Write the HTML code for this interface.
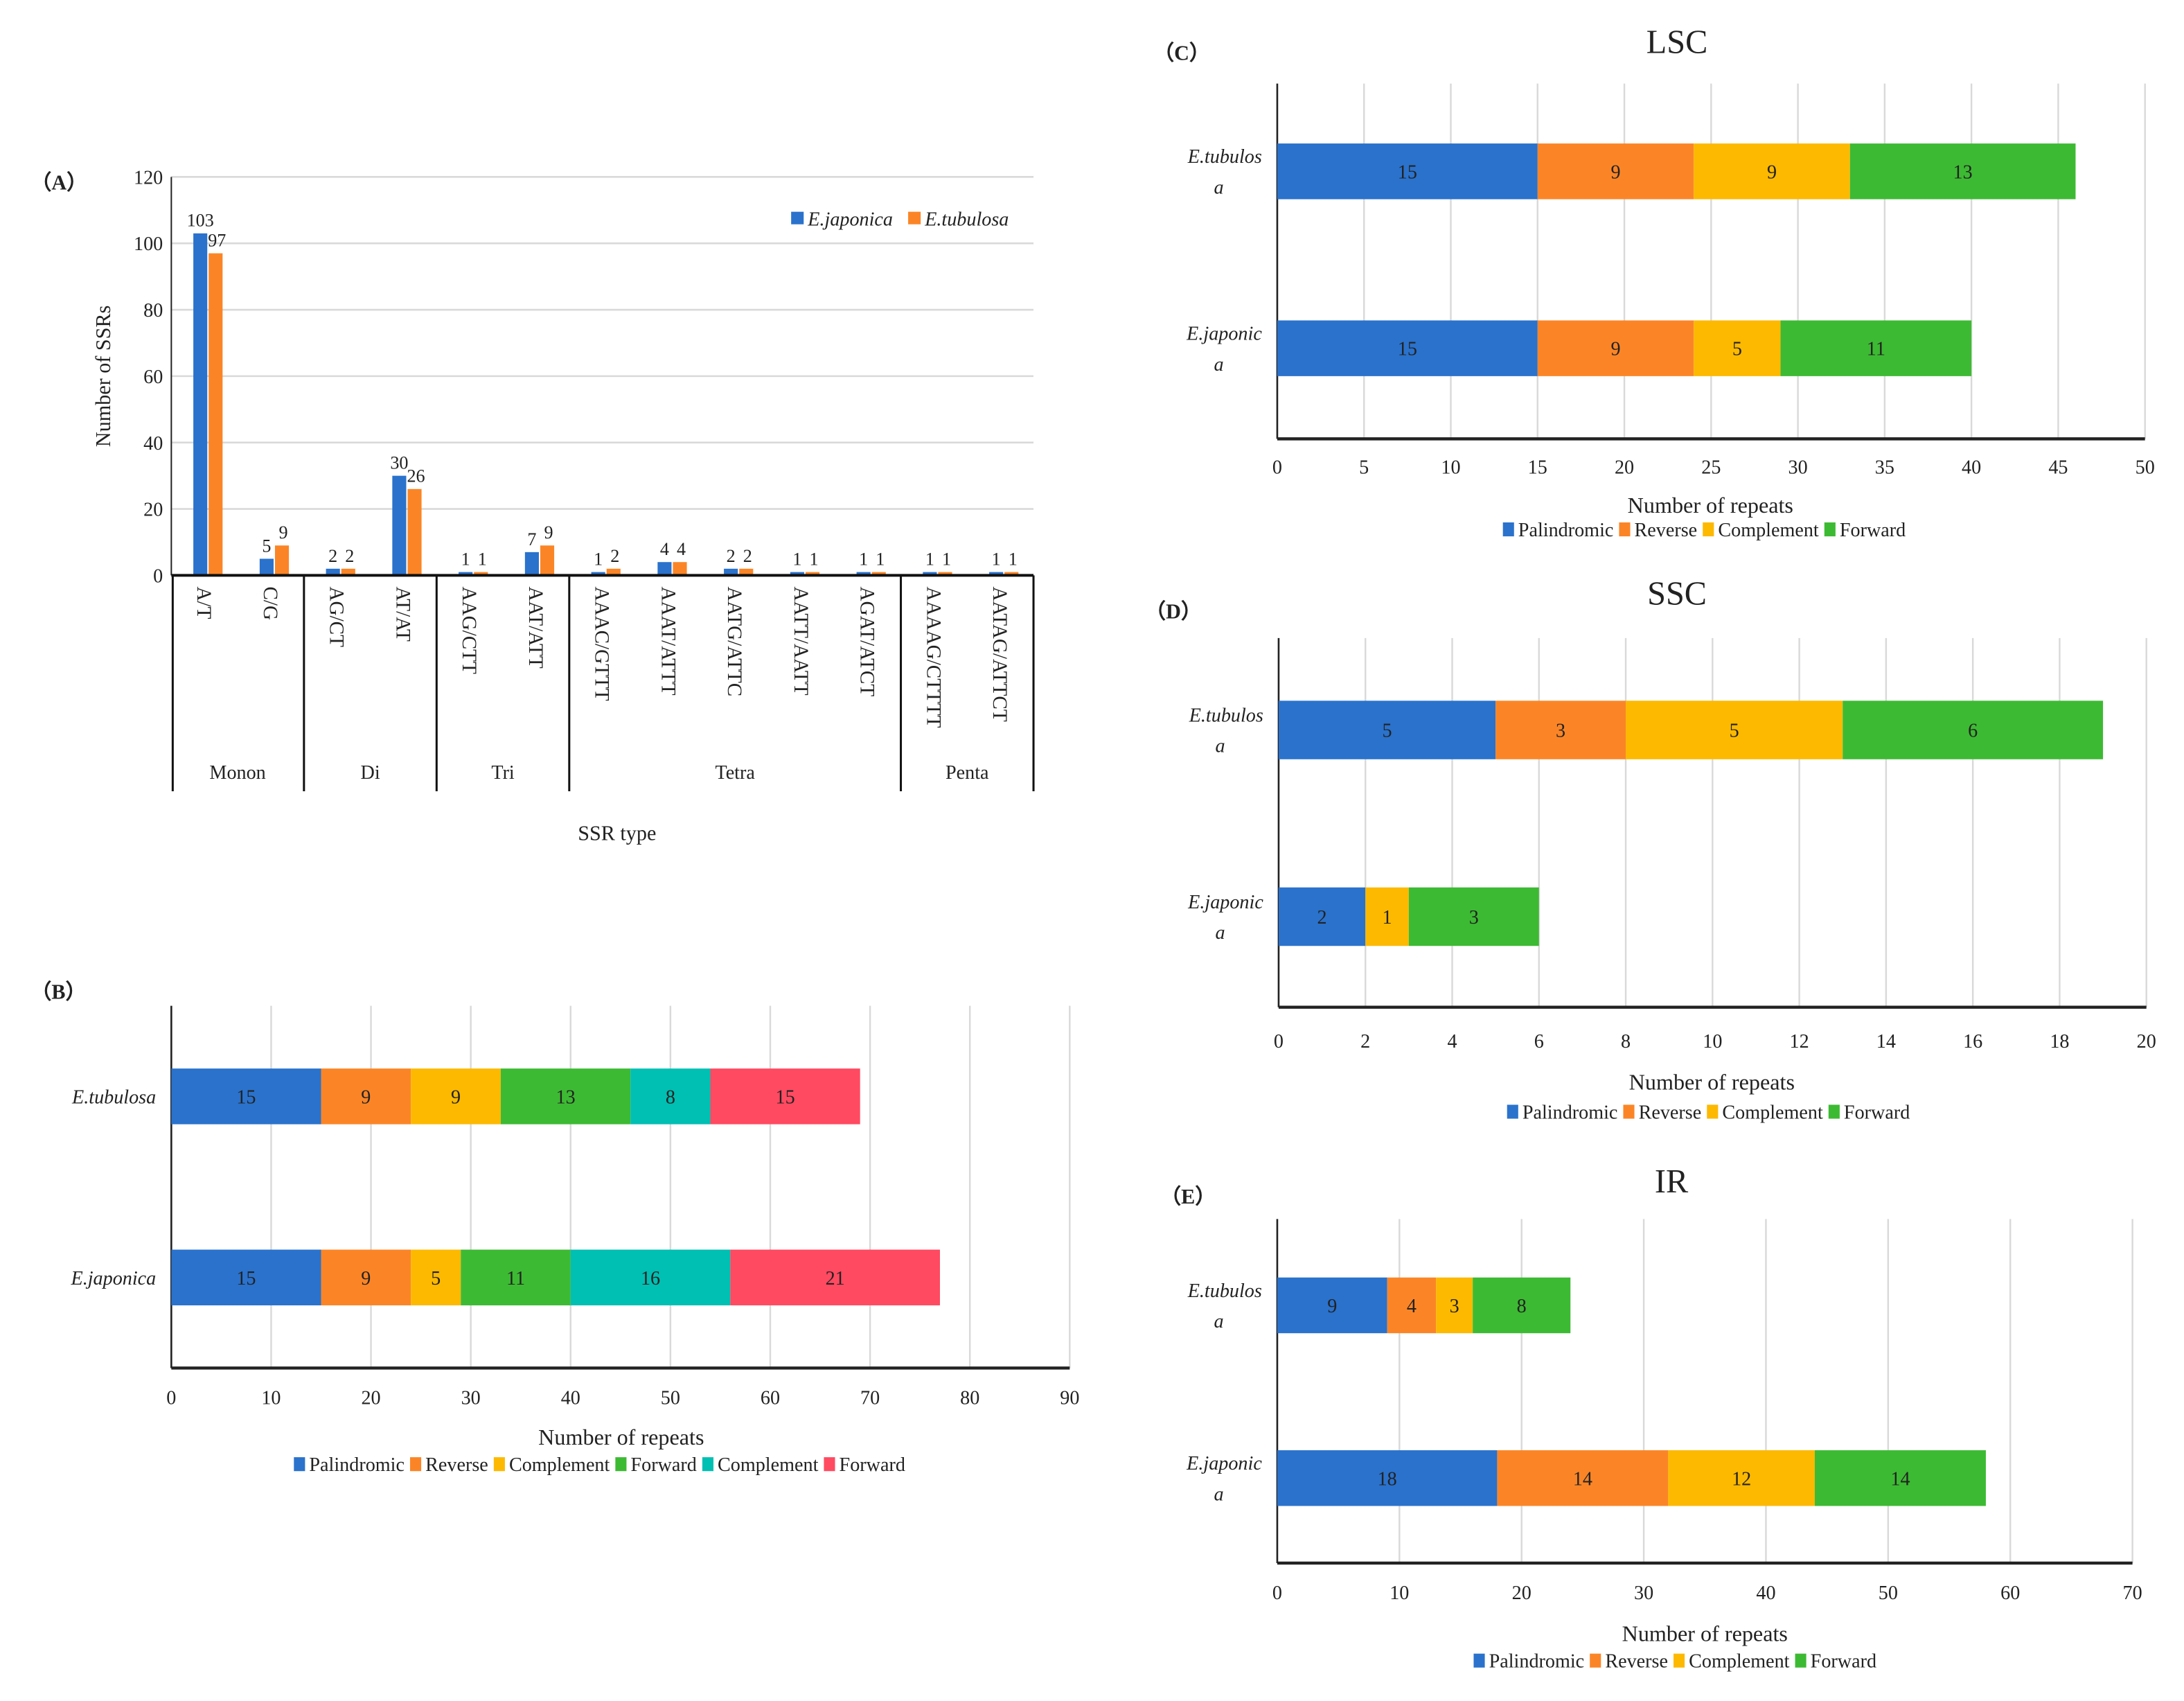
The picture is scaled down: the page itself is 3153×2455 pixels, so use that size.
<!DOCTYPE html>
<html><head><meta charset="utf-8"><style>
html,body{margin:0;padding:0;background:#fff;width:3153px;height:2455px;overflow:hidden}
svg{display:block}
text{font-family:"Liberation Serif","DejaVu Serif",serif;fill:#222}
</style></head><body>
<svg id="fig" width="3153" height="2455" viewBox="0 0 1568 1221" preserveAspectRatio="none" xmlns="http://www.w3.org/2000/svg"></svg>
<script>
// ---- Chart A data ----
const aCategories=["A/T","C/G","AG/CT","AT/AT","AAG/CTT","AAT/ATT","AAAC/GTTT","AAAT/ATTT","AATG/ATTC","AATT/AATT","AGAT/ATCT","AAAAG/CTTTT","AATAG/ATTCT"];
const aJaponica=[103,5,2,30,1,7,1,4,2,1,1,1,1];
const aTubulosa=[97,9,2,26,1,9,2,4,2,1,1,1,1];
const aGroups=["Monon","Di","Tri","Tetra","Penta"];
const aGroupSizes=[2,2,2,5,2];
const aTicks=[0,20,40,60,80,100,120];
// ---- Chart B data ----
const bRows=["E.tubulosa","E.japonica"];
const bSeries=["Palindromic","Reverse","Complement","Forward","Complement","Forward"];
const bTubulosa=[15,9,9,13,8,15];
const bJaponica=[15,9,5,11,16,21];
const bTicks=[0,10,20,30,40,50,60,70,80,90];
// ---- Chart C (LSC) ----
const cSeries=["Palindromic","Reverse","Complement","Forward"];
const cTubulosa=[15,9,9,13];
const cJaponica=[15,9,5,11];
const cTicks=[0,5,10,15,20,25,30,35,40,45,50];
// ---- Chart D (SSC) ----
const dTubulosa=[5,3,5,6];
const dJaponica=[2,0,1,3];
const dTicks=[0,2,4,6,8,10,12,14,16,18,20];
// ---- Chart E (IR) ----
const eTubulosa=[9,4,3,8];
const eJaponica=[18,14,12,14];
const eTicks=[0,10,20,30,40,50,60,70];

const colors=["#2a72cc","#fb8526","#fdb900","#3dba33","#00bfb3","#ff4a61"];
const svg=document.getElementById('fig');
const NS="http://www.w3.org/2000/svg";
function el(tag,attrs,parent){const e=document.createElementNS(NS,tag);for(const k in attrs)e.setAttribute(k,attrs[k]);(parent||svg).appendChild(e);return e;}
function txt(s,attrs,parent){const e=el('text',attrs,parent);e.textContent=s;return e;}

// ===== Chart A =====
(function(){
  const g=el('g',{});
  
  
  const x0=123,x1=742,y0=413,y1=127,max=120;
  const ys=v=>y0-(v/max)*(y0-y1);
  const cw=(x1-x0)/aCategories.length;
  const lab=txt('（A）',{x:22,y:136,'font-size':15,'font-weight':'bold'},g);
  
  aTicks.forEach(t=>{
    if(t>0){const l=el('line',{x1:x0,x2:x1,y1:ys(t),y2:ys(t),stroke:'#d9d9d9','stroke-width':1.3},g);
      }
    const tl=txt(String(t),{x:x0-6,y:ys(t)+5,'font-size':14,'text-anchor':'end'},g);
    
  });
  el('line',{x1:x0,x2:x0,y1:y1,y2:y0,stroke:'#222','stroke-width':1},g);
  aCategories.forEach((c,i)=>{
    const cx=x0+cw*(i+0.5);
    const bj=el('rect',{x:cx-8,y:ys(aJaponica[i]),width:10,height:y0-ys(aJaponica[i]),fill:colors[0]},g);
    
    const bt=el('rect',{x:cx+3,y:ys(aTubulosa[i]),width:10,height:y0-ys(aTubulosa[i]),fill:colors[1]},g);
    
    const lj=txt(String(aJaponica[i]),{x:cx-3,y:ys(aJaponica[i])-5,'font-size':13,'text-anchor':'middle'},g);
    
    const lt=txt(String(aTubulosa[i]),{x:cx+9,y:ys(aTubulosa[i])-5,'font-size':13,'text-anchor':'middle'},g);
    
    const cl=txt(c,{x:0,y:0,'font-size':14.5,transform:`translate(${cx-5},421) rotate(90)`},g);
    
  });
  el('line',{x1:x0,x2:x1,y1:y0,y2:y0,stroke:'#111','stroke-width':2},g);
  let idx=0;
  el('line',{x1:x0+1,x2:x0+1,y1:y0,y2:568,stroke:'#111','stroke-width':1.5},g);
  aGroups.forEach((gn,j)=>{
    const s=idx;idx+=aGroupSizes[j];
    const xe=x0+cw*idx;
    el('line',{x1:xe,x2:xe,y1:y0,y2:568,stroke:'#111','stroke-width':1.5},g);
    const gl=txt(gn,{x:x0+cw*(s+idx)/2,y:559,'font-size':14,'text-anchor':'middle'},g);
    
  });
  const xt=txt('SSR type',{x:443,y:603,'font-size':15,'text-anchor':'middle'},g);
  
  const yt=txt('Number of SSRs',{x:0,y:0,'font-size':15,'text-anchor':'middle',transform:'translate(79,270) rotate(-90)'},g);
  
  const lg=el('g',{},g);
  el('rect',{x:568,y:152,width:9,height:9,fill:colors[0]},lg);
  txt('E.japonica',{x:580,y:162,'font-size':14,'font-style':'italic'},lg);
  el('rect',{x:652,y:152,width:9,height:9,fill:colors[1]},lg);
  txt('E.tubulosa',{x:664,y:162,'font-size':14,'font-style':'italic'},lg);
})();

// ===== Horizontal stacked charts =====
function hchart(o){
  const g=el('g',{});
  
  
  const max=o.ticks[o.ticks.length-1];
  const xs=v=>o.x0+(v/max)*(o.x1-o.x0);
  o.ticks.forEach(t=>{
    if(t>0){const l=el('line',{x1:xs(t),x2:xs(t),y1:o.top,y2:o.axisY,stroke:'#d9d9d9','stroke-width':1.2},g);
      }
    const tl=txt(String(t),{x:xs(t),y:o.tickY,'font-size':14,'text-anchor':'middle'},g);
    
  });
  el('line',{x1:o.x0,x2:o.x0,y1:o.top,y2:o.axisY,stroke:'#222','stroke-width':1.3},g);
  el('line',{x1:o.x0,x2:o.x1,y1:o.axisY,y2:o.axisY,stroke:'#222','stroke-width':2.2},g);
  o.rows.forEach((r,ri)=>{
    let acc=0;const vals=r.vals;
    vals.forEach((v,si)=>{
      if(v<=0)return;
      const rc=el('rect',{x:xs(acc),y:r.y,width:xs(acc+v)-xs(acc),height:o.h,fill:colors[si]},g);
      
      
      const lt=txt(String(v),{x:(xs(acc)+xs(acc+v))/2,y:r.y+o.h/2+5,'font-size':14,'text-anchor':'middle',fill:si==0?'#1a1a1a':'#4a4a4a'},g);
      
      acc+=v;
    });
    const cy=r.y+o.h/2;
    if(o.wrap){
      const a=txt(r.label.slice(0,-1),{x:o.x0-11,y:cy-6,'font-size':14,'font-style':'italic','text-anchor':'end'},g);
      
      const b=txt(r.label.slice(-1),{x:o.x0-42,y:cy+16,'font-size':14,'font-style':'italic','text-anchor':'middle'},g);
      
    }else{
      const a=txt(r.label,{x:o.x0-11,y:cy+5,'font-size':14,'font-style':'italic','text-anchor':'end'},g);
      
    }
  });
  const pl=txt(o.panel,{x:o.panelX,y:o.panelY,'font-size':15,'font-weight':'bold'},g);
  
  if(o.title){const t=txt(o.title,{x:o.titleX,y:o.titleY,'font-size':24,'text-anchor':'middle'},g);
    }
  const xt=txt('Number of repeats',{x:o.xtX,y:o.xtY,'font-size':16,'text-anchor':'middle'},g);
  
  const lg=el('g',{},g);
  let lx=o.legX;
  o.series.forEach((s,si)=>{
    el('rect',{x:lx,y:o.legY-10,width:8,height:10,fill:colors[si]},lg);
    const t=txt(s,{x:lx+11,y:o.legY,'font-size':14},lg);
    
    lx+=11+t.getComputedTextLength()+4;
  });
}
hchart({name:'chart-b-repeats',panel:'（B）',panelX:22,panelY:717,x0:123,x1:768,top:722,axisY:982,tickY:1008,h:40,
  rows:[{label:bRows[0],vals:bTubulosa,y:767},{label:bRows[1],vals:bJaponica,y:897}],series:bSeries,ticks:bTicks,
  xtX:446,xtY:1037,legX:211,legY:1056,wrap:false});
hchart({name:'chart-c-lsc',panel:'（C）',panelX:828,panelY:43,title:'LSC',titleX:1204,titleY:38,x0:917,x1:1540,top:60,axisY:315,tickY:340,h:40,
  rows:[{label:'E.tubulosa',vals:cTubulosa,y:103},{label:'E.japonica',vals:cJaponica,y:230}],series:cSeries,ticks:cTicks,
  xtX:1228,xtY:368,legX:1079,legY:385,wrap:true});
hchart({name:'chart-d-ssc',panel:'（D）',panelX:822,panelY:444,title:'SSC',titleX:1204,titleY:434,x0:918,x1:1541,top:458,axisY:723,tickY:752,h:42,
  rows:[{label:'E.tubulosa',vals:dTubulosa,y:503},{label:'E.japonica',vals:dJaponica,y:637}],series:cSeries,ticks:dTicks,
  xtX:1229,xtY:782,legX:1082,legY:803,wrap:true});
hchart({name:'chart-e-ir',panel:'（E）',panelX:833,panelY:864,title:'IR',titleX:1200,titleY:856,x0:917,x1:1531,top:875,axisY:1122,tickY:1148,h:40,
  rows:[{label:'E.tubulosa',vals:eTubulosa,y:917},{label:'E.japonica',vals:eJaponica,y:1041}],series:cSeries,ticks:eTicks,
  xtX:1224,xtY:1178,legX:1058,legY:1197,wrap:true});
</script>
</body></html>
